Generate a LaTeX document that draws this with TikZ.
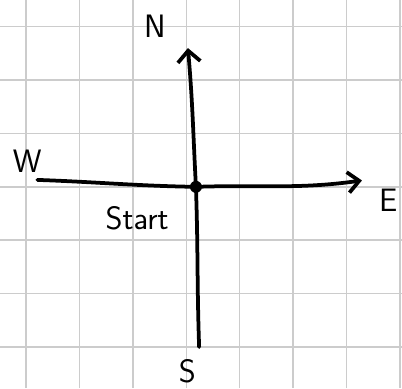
\documentclass[tikz,border=0pt]{standalone}
\usepackage{tikz}
\usetikzlibrary{arrows.meta}

\begin{document}
\begin{tikzpicture}[font=\LARGE\sffamily,
    axis/.style={line width=2pt, line cap=round, line join=round},
    dir/.style={inner sep=1pt}]
      \useasboundingbox (-0.49,-6.77) rectangle (7.04,0.5);
      \draw[gray!40, line width=0.8pt, step=1] (-0.49,-6.77) grid (7.04,0.5);
      \coordinate (start) at (3.18,-3.0);
      \coordinate (west) at (0.21,-2.87);
      \coordinate (east) at (6.29,-2.88);
      \coordinate (north) at (3.03,-0.4);
      \coordinate (south) at (3.24,-6.0);
      \draw[axis] (west) to[out=-2,in=179] (start);
      \draw[axis, -{Straight Barb[length=6pt, width=11pt]}] (start) to[out=2,in=188] (east);
      \draw[axis] (south) to[out=92,in=-88] (start);
      \draw[axis, -{Straight Barb[length=6pt, width=12pt]}] (start) to[out=93,in=-85] (north);
      \fill (start) circle (3.2pt);
      \node[dir] (n) at (2.41,0.0) {N};
      \node[dir] (w) at (0.02,-2.52) {W};
      \node[dir] (e) at (6.78,-3.25) {E};
      \node[dir] (s) at (3.02,-6.45) {S};
      \node[dir] (lbl) at (2.08,-3.59) {Start};
    \end{tikzpicture}
\end{document}
